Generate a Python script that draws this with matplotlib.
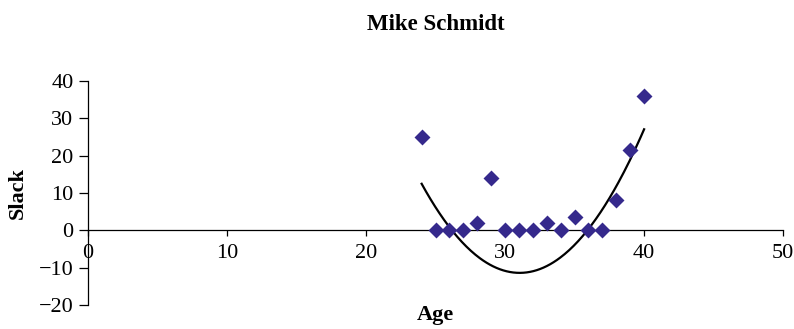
import numpy as np
import matplotlib.pyplot as plt

plt.rcParams['font.family'] = ['Liberation Serif', 'DejaVu Serif']

# season age vs. slack
age = [24, 25, 26, 27, 28, 29, 30, 31, 32, 33, 34, 35, 36, 37, 38, 39, 40]
slack = [25, 0, 0, 0, 2, 14, 0, 0, 0, 2, 0, 3.5, 0, 0, 8, 21.5, 36]

# quadratic trendline, vertex form y = a*(x - h)**2 + k
trend_a = 0.48
trend_h = 31.05
trend_k = -11.4

xs = np.linspace(min(age), max(age), 200)
ys = trend_a * (xs - trend_h) ** 2 + trend_k

fig = plt.figure(figsize=(7.94, 3.29), dpi=100)
ax = fig.add_axes([0.1108, 0.073, 0.8755, 0.681])

ax.scatter(age, slack, marker='D', s=66, color='#35298c', zorder=3, linewidths=0)
ax.plot(xs, ys, color='black', lw=1.6, zorder=2)

ax.set_xlim(0, 50)
ax.set_ylim(-20, 40)
ax.set_xticks(np.arange(0, 51, 10))
ax.set_yticks(np.arange(-20, 41, 10))

ax.spines['top'].set_visible(False)
ax.spines['right'].set_visible(False)
ax.spines['bottom'].set_position(('data', 0))
for s in ('left', 'bottom'):
    ax.spines[s].set_linewidth(0.9)

ax.tick_params(axis='y', direction='out', length=6.5, width=0.9, labelsize=16, pad=4)
ax.tick_params(axis='x', direction='out', length=4, width=0.9, labelsize=16, pad=6)

cx = (ax.get_position().x0 + ax.get_position().x1) / 2
fig.text(cx, 1 - 25 / 329, 'Mike Schmidt', ha='center', va='center',
         fontsize=16.5, fontweight='bold')
fig.text(18 / 794, 0.5 * (0.073 + 0.754), 'Slack', ha='center', va='center',
         rotation=90, fontsize=16, fontweight='bold')
fig.text(cx, 1 - 315 / 329, 'Age', ha='center', va='center',
         fontsize=16, fontweight='bold')

fig.savefig('out.png', dpi=100)
